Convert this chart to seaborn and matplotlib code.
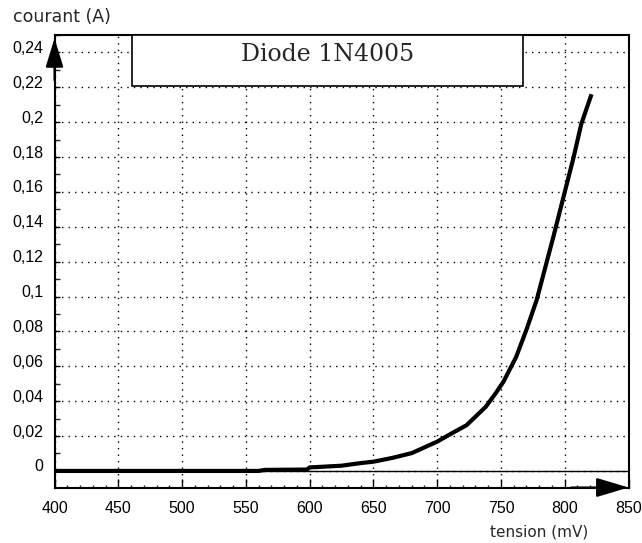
import numpy as np
import pandas as pd
import matplotlib
matplotlib.use("Agg")
import matplotlib.pyplot as plt
import matplotlib.transforms as mtransforms
from matplotlib.ticker import MultipleLocator, FixedLocator, FixedFormatter
from matplotlib.patches import Rectangle
import seaborn as sns

# ---- data ----
tension_mV = [400, 560, 565, 598, 600, 625, 640, 650, 665, 680, 700, 712, 723,
              738, 746, 752, 762, 770, 778, 791, 799, 807, 813, 821]
courant_A = [0, 0, 0.0006, 0.0008, 0.002, 0.003, 0.0045, 0.0053, 0.0075, 0.0102,
             0.0168, 0.0218, 0.0262, 0.0367, 0.0447, 0.0512, 0.0655, 0.081, 0.098,
             0.134, 0.157, 0.180, 0.199, 0.216]

x_ticks = [400, 450, 500, 550, 600, 650, 700, 750, 800, 850]
x_tick_labels = ["400", "450", "500", "550", "600", "650", "700", "750", "800", "850"]
y_ticks = [0, 0.02, 0.04, 0.06, 0.08, 0.1, 0.12, 0.14, 0.16, 0.18, 0.2, 0.22, 0.24]
y_tick_labels = ["0", "0,02", "0,04", "0,06", "0,08", "0,1", "0,12", "0,14",
                 "0,16", "0,18", "0,2", "0,22", "0,24"]
title_text = "Diode 1N4005"
x_label = "tension (mV)"
y_label = "courant (A)"

sns.set_style("white")
plt.rcParams["font.family"] = ["DejaVu Sans"]

W, H = 642, 543
fig = plt.figure(figsize=(W / 100, H / 100), dpi=100)
ax_left, ax_right, ax_top, ax_bottom = 54.5, 628.5, 35, 487.5
ax = fig.add_axes([ax_left / W, (H - ax_bottom) / H,
                   (ax_right - ax_left) / W, (ax_bottom - ax_top) / H])

df = pd.DataFrame({"tension": tension_mV, "courant": courant_A})

# zero line
ax.axhline(0, color="black", lw=1.0, zorder=3)

sns.lineplot(data=df, x="tension", y="courant", ax=ax, color="black",
             lw=3.0, estimator=None, sort=False, zorder=4,
             solid_capstyle="butt", solid_joinstyle="miter")

ax.set_xlim(400, 850)
ax.set_ylim(-0.0095, 0.25)
ax.set_xlabel("")
ax.set_ylabel("")

tick_font = ["Liberation Sans", "DejaVu Sans"]

ax.xaxis.set_major_locator(FixedLocator(x_ticks))
ax.xaxis.set_major_formatter(FixedFormatter(x_tick_labels))
ax.xaxis.set_minor_locator(MultipleLocator(10))
ax.yaxis.set_major_locator(FixedLocator(y_ticks))
ax.yaxis.set_major_formatter(FixedFormatter(y_tick_labels))
ax.yaxis.set_minor_locator(MultipleLocator(0.01))

ax.tick_params(axis="x", which="major", direction="in", length=6.5, width=1.0,
               pad=10, labelsize=11.5, colors="black")
ax.tick_params(axis="x", which="minor", direction="in", length=2.2, width=1.0)
ax.tick_params(axis="y", which="major", direction="in", length=3.6, width=1.0,
               pad=8, labelsize=11.5, colors="black")
ax.tick_params(axis="y", which="minor", direction="in", length=3.6, width=1.0)
ax.tick_params(bottom=True, left=True, top=False, right=False)
ax.tick_params(which="minor", bottom=True, left=True, top=False, right=False)

for lab in ax.get_xticklabels() + ax.get_yticklabels():
    lab.set_family(tick_font)
offset = mtransforms.ScaledTranslation(0, 4 / 72, fig.dpi_scale_trans)
for lab in ax.get_yticklabels():
    lab.set_transform(lab.get_transform() + offset)

# dotted grid
ax.grid(True, which="major", color="black", lw=1.0,
        linestyle=(0, (1, 3.7)), zorder=1)
ax.set_axisbelow(True)

for side in ["left", "bottom", "top", "right"]:
    ax.spines[side].set_visible(True)
    ax.spines[side].set_color("black")
    ax.spines[side].set_linewidth(1.5)

# title box
bx0 = (132 - ax_left) / (ax_right - ax_left)
bx1 = (523 - ax_left) / (ax_right - ax_left)
by0 = (ax_bottom - 86) / (ax_bottom - ax_top)
ax.add_patch(Rectangle((bx0, by0), bx1 - bx0, 1 - by0, transform=ax.transAxes,
                       facecolor="white", edgecolor="black", lw=1.2, zorder=5,
                       clip_on=False))
ax.text((bx0 + bx1) / 2, (ax_bottom - 55) / (ax_bottom - ax_top), title_text,
        transform=ax.transAxes, ha="center", va="center", fontsize=17,
        family=["DejaVu Serif"], zorder=6)

# axis arrows
ax.annotate("", xy=(0, 0.993), xytext=(0, 0.90), xycoords="axes fraction",
            arrowprops=dict(arrowstyle="-|>,head_length=1.8,head_width=0.55",
                            color="black", lw=1.5, shrinkA=0, shrinkB=0),
            annotation_clip=False, zorder=7)
ax.annotate("", xy=(1.0, 0), xytext=(0.90, 0), xycoords="axes fraction",
            arrowprops=dict(arrowstyle="-|>,head_length=2.0,head_width=0.6",
                            color="black", lw=1.5, shrinkA=0, shrinkB=0),
            annotation_clip=False, zorder=7)

# axis labels
fig.text(13 / W, 1 - 17 / H, y_label, ha="left", va="center", fontsize=12.5)
fig.text(490 / W, 1 - 532 / H, x_label, ha="left", va="center", fontsize=11)

fig.savefig("out.png", dpi=100, facecolor="white")
